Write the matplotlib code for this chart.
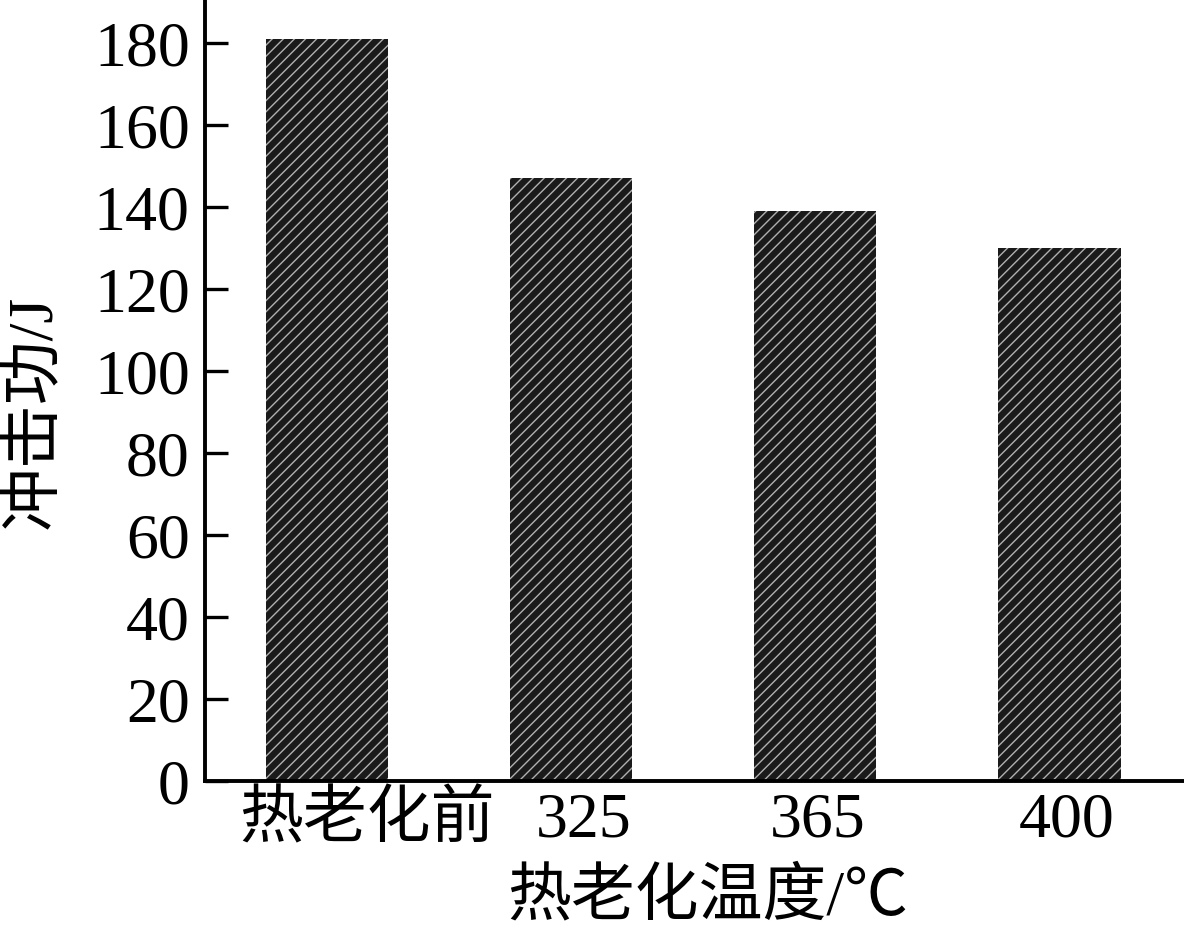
import matplotlib
matplotlib.use("Agg")
import matplotlib.pyplot as plt
from matplotlib.transforms import ScaledTranslation

categories = ["热老化前", "325", "365", "400"]
impact_energy = [181, 147, 139, 130]
yticks = [0, 20, 40, 60, 80, 100, 120, 140, 160, 180]

plt.rcParams['font.family'] = ['Liberation Serif', 'Noto Sans CJK SC', 'DejaVu Sans']
plt.rcParams['hatch.linewidth'] = 1.0

fig = plt.figure(figsize=(11.84, 9.46), dpi=100)
ax = fig.add_axes([205/1184, 165/946, 979/1184, 781/946])

x = list(range(len(categories)))
ax.bar(x, impact_energy, width=0.5, color='#1a1a1a', edgecolor='#b0b0b0',
       linewidth=0, hatch='///')

ax.set_xlim(-0.5, 3.51)
ax.set_ylim(0, 190.5)
ax.set_yticks(yticks)
ax.set_xticks(x)
ax.set_xticklabels(categories)

for s in ['top', 'right']:
    ax.spines[s].set_visible(False)
for s in ['left', 'bottom']:
    ax.spines[s].set_linewidth(2.8)

ax.tick_params(axis='y', direction='in', length=16.5, width=2.4, labelsize=46, pad=11)
ax.tick_params(axis='x', length=0, labelsize=46, pad=8)

offsets = [0.40, 0.12, 0.02, 0.07]
for lab, off in zip(ax.get_xticklabels(), offsets):
    lab.set_transform(lab.get_transform() + ScaledTranslation(off, 0, fig.dpi_scale_trans))

ax.set_ylabel("冲击功/J", fontsize=46)
ax.yaxis.set_label_coords(-0.143, 0.472)
ax.set_xlabel("热老化温度/℃", fontsize=46)
ax.xaxis.set_label_coords(0.514, -0.112)

fig.savefig("out.png", dpi=100, facecolor='white')
